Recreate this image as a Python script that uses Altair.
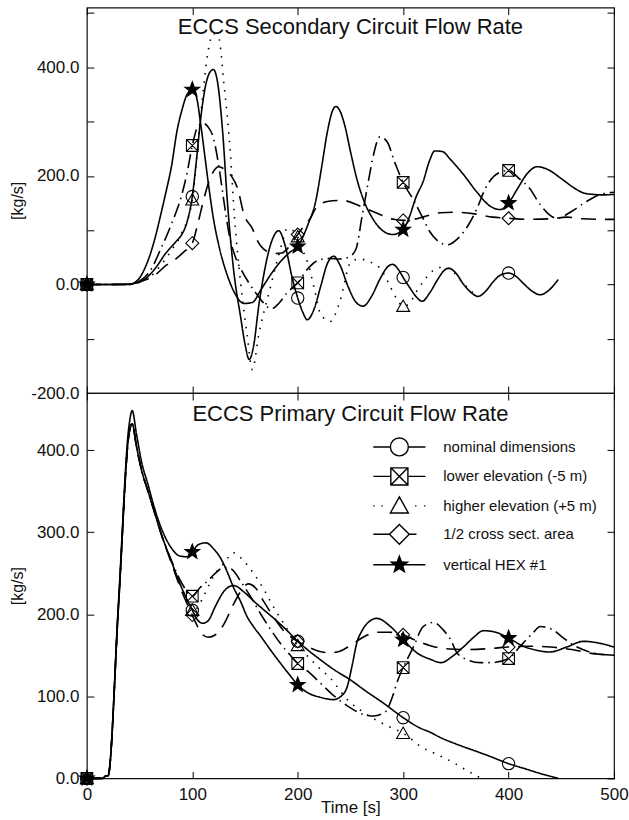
import math

import altair as alt
import pandas as pd

# ---------------------------------------------------------------------------
# Series names, marker positions and tick values
# ---------------------------------------------------------------------------
SERIES = [
    "nominal dimensions",
    "lower elevation (-5 m)",
    "higher elevation (+5 m)",
    "1/2 cross sect. area",
    "vertical HEX #1",
]
MARK_TIMES = [0, 100, 200, 300, 400]
TIME_TICKS = [0, 100, 200, 300, 400, 500]
SEC_TICKS = [-200, -100, 0, 100, 200, 300, 400, 500]
PRI_TICKS = [0, 100, 200, 300, 400]

# ---------------------------------------------------------------------------
# ECCS secondary circuit flow rate [kg/s] as (time [s], flow) pairs
# ---------------------------------------------------------------------------
SEC_NOMINAL = [
    (0, 0), (20, 0), (40, 1), (45, 2), (55, 10), (65, 30), (75, 58), (85, 80),
    (90, 92), (95, 115), (100, 162), (104, 230), (108, 306), (113, 370),
    (117, 392), (120, 396), (124, 372), (129, 276), (133, 160), (139, 30),
    (146, -62), (150, -110), (154, -138), (158, -115), (163, -40), (168, 20),
    (175, 78), (182, 99), (188, 72), (195, 10), (200, -25), (205, -52),
    (209, -65), (215, -48), (222, -2), (228, 38), (234, 52), (240, 36),
    (248, -5), (255, -32), (262, -40), (270, -22), (278, 10), (285, 32),
    (290, 37), (296, 26), (300, 13), (307, -8), (313, -24), (318, -31),
    (325, -16), (333, 10), (338, 24), (343, 30), (350, 21), (357, 1),
    (364, -14), (371, -22), (378, -13), (385, 4), (392, 17), (400, 21),
    (407, 15), (414, 2), (422, -12), (430, -19), (438, -11), (447, 9),
]
SEC_LOWER = [
    (0, 0), (40, 0), (50, 6), (60, 25), (70, 65), (80, 110), (90, 165),
    (95, 205), (100, 256), (105, 290), (110, 297), (115, 290), (120, 270),
    (125, 220), (130, 153), (135, 92), (141, 50), (147, 25), (153, 5),
    (160, -15), (168, -35), (175, -45), (182, -35), (190, -15), (200, 3),
    (210, 30), (220, 45), (230, 48), (240, 47), (248, 50), (255, 64),
    (261, 125), (267, 190), (272, 240), (278, 272), (285, 262), (292, 225),
    (300, 188), (310, 155), (318, 125), (325, 98), (333, 80), (342, 73),
    (352, 85), (362, 110), (370, 140), (378, 177), (390, 205), (400, 210),
    (410, 195), (420, 177), (430, 147), (446, 122), (460, 135), (474, 153),
    (487, 166), (500, 170),
]
SEC_HIGHER = [
    (0, 0), (40, 0), (50, 4), (60, 14), (70, 35), (80, 62), (90, 95),
    (100, 156), (105, 250), (110, 350), (115, 430), (120, 462), (125, 455),
    (130, 370), (136, 245), (140, 125), (146, 0), (152, -93), (157, -157),
    (163, -93), (168, -50), (173, -13), (179, 33), (185, 75), (190, 103),
    (195, 100), (200, 88), (205, 62), (210, 37), (216, -10), (222, -56),
    (231, -68), (240, -31), (250, 40), (258, 47), (268, 42), (280, 25),
    (288, -5), (295, -30), (300, -40), (306, -35), (312, -15), (319, 5),
    (328, 25), (338, 32), (348, 22), (358, 0), (366, -15),
]
SEC_HALF = [
    (0, 0), (40, 0), (45, 2), (55, 8), (65, 18), (75, 35), (85, 48), (92, 60),
    (100, 76), (105, 110), (110, 150), (115, 185), (120, 208), (125, 217),
    (130, 213), (137, 200), (143, 177), (149, 129), (157, 103), (162, 80),
    (170, 62), (178, 57), (185, 58), (192, 70), (200, 92), (206, 108),
    (212, 122), (217, 140), (228, 153), (242, 155), (255, 148), (262, 142),
    (278, 129), (291, 120), (300, 118), (310, 120), (320, 125), (335, 132),
    (350, 133), (368, 130), (385, 124), (400, 122), (420, 120), (440, 121),
    (455, 124), (470, 121), (485, 120), (500, 120),
]
SEC_HEX = [
    (0, 0), (40, 0), (45, 3), (50, 12), (55, 30), (60, 55), (65, 88),
    (70, 128), (75, 170), (80, 215), (86, 288), (90, 320), (95, 350),
    (100, 359), (104, 345), (108, 295), (112, 235), (116, 175), (120, 122),
    (126, 65), (133, 18), (140, -15), (149, -35), (157, -33), (165, -10),
    (175, 20), (185, 45), (193, 60), (200, 70), (205, 88), (210, 112),
    (217, 153), (223, 220), (228, 280), (233, 320), (236, 328), (240, 320),
    (245, 290), (250, 245), (256, 195), (263, 153), (270, 125), (280, 100),
    (290, 92), (300, 101), (306, 125), (312, 160), (319, 190), (325, 228),
    (330, 246), (337, 245), (345, 230), (357, 203), (370, 170), (382, 145),
    (392, 138), (400, 150), (408, 175), (418, 205), (427, 217), (437, 212),
    (450, 195), (462, 178), (472, 168), (480, 166), (490, 165), (500, 166),
]

# ---------------------------------------------------------------------------
# ECCS primary circuit flow rate [kg/s] as (time [s], flow) pairs
# ---------------------------------------------------------------------------
PRI_NOMINAL = [
    (0, 0), (15, 0), (18, 3), (20, 3), (30, 210), (40, 420), (43, 432),
    (47, 405), (52, 375), (58, 350), (64, 325), (70, 300), (80, 265),
    (90, 232), (100, 205), (105, 193), (110, 189), (115, 192), (122, 210),
    (130, 228), (139, 235), (150, 226), (160, 214), (170, 203), (180, 192),
    (190, 180), (200, 167), (210, 156), (221, 145), (235, 132), (250, 120),
    (265, 106), (281, 92), (300, 74), (315, 62), (326, 56), (335, 50),
    (350, 42), (365, 35), (380, 28), (400, 18), (415, 12), (430, 6), (447, 0),
]
PRI_LOWER = [
    (0, 0), (15, 0), (18, 3), (20, 3), (30, 210), (40, 420), (43, 432),
    (47, 405), (52, 375), (58, 350), (64, 325), (70, 300), (80, 266),
    (90, 238), (100, 222), (107, 232), (114, 240), (122, 250), (130, 257),
    (137, 255), (146, 240), (155, 222), (165, 200), (175, 180), (185, 162),
    (193, 150), (200, 140), (210, 130), (220, 118), (235, 100), (250, 86),
    (262, 78), (272, 76), (283, 81), (290, 100), (295, 120), (300, 135),
    (305, 148), (310, 161), (319, 185), (329, 190), (338, 181), (345, 169),
    (351, 153), (360, 145), (373, 141), (383, 141), (400, 146), (411, 161),
    (423, 177), (430, 185), (442, 181), (452, 171), (465, 160), (480, 153),
    (500, 150),
]
PRI_HIGHER = [
    (0, 0), (15, 0), (18, 3), (20, 3), (30, 210), (40, 420), (43, 432),
    (47, 405), (52, 375), (58, 350), (64, 325), (70, 300), (80, 265),
    (90, 232), (100, 205), (105, 208), (110, 220), (116, 236), (122, 250),
    (130, 262), (139, 275), (148, 266), (158, 250), (168, 230), (177, 209),
    (188, 186), (200, 162), (210, 148), (220, 135), (231, 122), (247, 96),
    (263, 80), (285, 64), (300, 55), (319, 37), (329, 31), (348, 19),
    (360, 10), (374, 0),
]
PRI_HALF = [
    (0, 0), (15, 0), (18, 3), (20, 3), (30, 210), (40, 420), (43, 432),
    (47, 405), (52, 375), (58, 350), (64, 325), (70, 300), (80, 263),
    (90, 228), (100, 199), (105, 185), (110, 175), (115, 172), (122, 175),
    (130, 188), (139, 212), (146, 228), (153, 237), (160, 232), (168, 215),
    (178, 195), (188, 178), (200, 167), (210, 160), (220, 155), (230, 153),
    (240, 155), (250, 162), (262, 172), (275, 178), (287, 178), (300, 175),
    (312, 168), (325, 162), (340, 158), (360, 157), (380, 158), (400, 160),
    (420, 161), (440, 160), (460, 157), (480, 152), (500, 150),
]
PRI_HEX = [
    (0, 0), (15, 0), (18, 3), (20, 3), (30, 215), (40, 430), (43, 448),
    (47, 420), (52, 385), (58, 358), (64, 330), (70, 307), (80, 281),
    (88, 271), (95, 270), (100, 276), (106, 285), (113, 287), (120, 280),
    (127, 268), (133, 252), (139, 233), (146, 215), (152, 197), (158, 185),
    (165, 173), (175, 155), (185, 138), (193, 125), (200, 114), (210, 104),
    (221, 99), (234, 96), (241, 100), (247, 112), (252, 140), (256, 165),
    (261, 180), (266, 189), (275, 195), (288, 185), (300, 169), (313, 153),
    (326, 145), (336, 141), (346, 148), (357, 160), (367, 172), (376, 180),
    (388, 178), (400, 171), (414, 161), (427, 156), (439, 154), (455, 160),
    (471, 167), (485, 165), (500, 160),
]

# ---------------------------------------------------------------------------
# Styling: dash patterns, marker symbols and legend glyphs
# ---------------------------------------------------------------------------
FONT = "Liberation Sans"
INK = "#111111"
DASHES = [[1, 0], [14, 5, 1.5, 5], [1.5, 7], [15, 9], [1, 0]]


def circle_path(r):
    return f"M{r},0A{r},{r},0,1,1,{-r},0A{r},{r},0,1,1,{r},0Z"


def crossed_square_path(s):
    return (f"M{-s},{-s}H{s}V{s}H{-s}Z"
            f"M{-s},{-s}L{s},{s}M{s},{-s}L{-s},{s}")


def triangle_path(top, base, half):
    return f"M0,{-top}L{half},{base}L{-half},{base}Z"


def diamond_path(d):
    return f"M0,{-d}L{d},0L0,{d}L{-d},0Z"


def star_path(outer, ratio=0.42):
    pts = []
    for k in range(10):
        ang = math.radians(-90 + 36 * k)
        r = outer if k % 2 == 0 else outer * ratio
        pts.append(f"{r * math.cos(ang):.3f},{r * math.sin(ang):.3f}")
    return "M" + "L".join(pts) + "Z"


MARKER_PATHS = [
    circle_path(0.95),
    crossed_square_path(0.9),
    triangle_path(0.95, 0.8, 1.0),
    diamond_path(1.0),
    star_path(1.2),
]
MARKER_FILLS = ["transparent", "transparent", "transparent", "transparent", "black"]

# legend glyphs: short line sample with the marker in the middle
LEGEND_PATHS = [
    "M-2.9,0H-1M1,0H2.9" + circle_path(1.0),
    "M-2.9,0H-0.95M0.95,0H2.9" + crossed_square_path(0.95),
    "M-2.9,0H-2.75M-2,0H-1.85M1.75,0H1.9M2.75,0H2.9" + triangle_path(1.0, 0.8, 1.0),
    "M-2.9,0H-1.1M1.1,0H1.9" + diamond_path(1.1),
    "M-2.9,0H2.9" + star_path(0.95),
]
LEGEND_FILLS = MARKER_FILLS
LEGEND_STROKES = ["black"] * 5

X_SCALE = alt.Scale(domain=[0, 500], nice=False, zero=False)
PLOT_WIDTH = 528


def to_frame(panel):
    rows = []
    for name, pairs in zip(SERIES, panel):
        for t, v in pairs:
            rows.append({"series": name, "time": t, "flow": v})
    return pd.DataFrame(rows)


def tick_axis(orient, values, **kw):
    """Axis whose grid dashes act as short inward tick marks."""
    opts = dict(
        orient=orient, values=values, grid=True, gridDash=[7, 4000],
        gridColor="black", gridOpacity=1, gridWidth=1, ticks=False,
        tickSize=0, domain=False, labelFont=FONT, labelFontSize=17,
        labelColor=INK, titleFont=FONT, titleColor=INK,
        titleFontWeight="normal",
    )
    opts.update(kw)
    return alt.Axis(**opts)


def panel(data, y_domain, y_ticks, label_expr, title, title_y, height, bottom_panel):
    y_scale = alt.Scale(domain=y_domain, nice=False, zero=False)
    markers = data[data["time"].isin(MARK_TIMES)]

    left = tick_axis("left", y_ticks, labelExpr=label_expr, labelPadding=8,
                     title="[kg/s]", titleFontSize=16, titleX=-61,
                     titleY=height / 2)
    right = tick_axis("right", y_ticks, labels=False, title=None)
    top = tick_axis("top", TIME_TICKS, labels=False, title=None)
    if bottom_panel:
        bottom = tick_axis("bottom", TIME_TICKS, format="d", labelFlush=False,
                           labelPadding=8, title="Time [s]", titleFontSize=17,
                           titleY=21, titleBaseline="top")
    else:
        bottom = tick_axis("bottom", TIME_TICKS, labels=False, title=None)

    lines = alt.Chart(data).mark_line(
        color="black", strokeWidth=1.6, interpolate="monotone"
    ).encode(
        x=alt.X("time:Q", scale=X_SCALE, axis=bottom),
        y=alt.Y("flow:Q", scale=y_scale, axis=left),
        strokeDash=alt.StrokeDash(
            "series:N", scale=alt.Scale(domain=SERIES, range=DASHES), legend=None
        ),
    )

    points = alt.Chart(markers).mark_point(
        color="black", stroke="black", strokeWidth=1.1, size=169, opacity=1
    ).encode(
        x=alt.X("time:Q", scale=X_SCALE, axis=top),
        y=alt.Y("flow:Q", scale=y_scale, axis=right),
        shape=alt.Shape(
            "series:N", scale=alt.Scale(domain=SERIES, range=MARKER_PATHS), legend=None
        ),
        fill=alt.Fill(
            "series:N", scale=alt.Scale(domain=SERIES, range=MARKER_FILLS), legend=None
        ),
    )

    # panel heading, written inside the plot frame
    heading = alt.Chart(alt.Data(values=[{}])).mark_text(
        text=title, font=FONT, fontSize=22, color=INK, align="center",
        baseline="alphabetic",
    ).encode(x=alt.value(PLOT_WIDTH / 2), y=alt.value(title_y))

    layers = [lines, points, heading]
    if bottom_panel:
        legend = alt.Legend(
            title=None, orient="none", legendX=303, legendY=44, padding=0,
            symbolSize=324, symbolStrokeColor="black", symbolStrokeWidth=1.4,
            symbolOpacity=1, labelFont=FONT, labelFontSize=15, labelColor=INK,
            labelOffset=34, rowPadding=5.5,
        )
        key = alt.Chart(markers[markers["time"] == 0]).mark_point(
            color="black", stroke="black", opacity=0
        ).encode(
            x=alt.X("time:Q", scale=X_SCALE, axis=None),
            y=alt.Y("flow:Q", scale=y_scale, axis=None),
            shape=alt.Shape(
                "series:N", scale=alt.Scale(domain=SERIES, range=LEGEND_PATHS),
                legend=legend,
            ),
            fill=alt.Fill(
                "series:N", scale=alt.Scale(domain=SERIES, range=LEGEND_FILLS),
                legend=legend,
            ),
            stroke=alt.Stroke(
                "series:N", scale=alt.Scale(domain=SERIES, range=LEGEND_STROKES),
                legend=legend,
            ),
        )
        layers.append(key)

    return alt.layer(*layers).resolve_scale(
        shape="independent", fill="independent", stroke="independent"
    ).resolve_axis(
        x="independent", y="independent"
    ).properties(width=PLOT_WIDTH, height=height)


secondary = panel(
    to_frame([SEC_NOMINAL, SEC_LOWER, SEC_HIGHER, SEC_HALF, SEC_HEX]),
    [-200, 510], SEC_TICKS,
    "datum.value % 200 === 0 ? (datum.value < 0 ? '-' : '') + "
    "format(abs(datum.value), '.1f') : ''",
    "ECCS Secondary Circuit Flow Rate", 26, 386, False,
)
primary = panel(
    to_frame([PRI_NOMINAL, PRI_LOWER, PRI_HIGHER, PRI_HALF, PRI_HEX]),
    [0, 469.5], PRI_TICKS, "format(datum.value, '.1f')",
    "ECCS Primary Circuit Flow Rate", 28.5, 386, True,
)

# panels stacked frame-to-frame, sharing the boundary line
chart = alt.vconcat(secondary, primary, spacing=0, bounds="flush").resolve_scale(
    shape="independent", fill="independent", stroke="independent"
).properties(
    padding={"left": 9, "top": 6, "right": 0, "bottom": 0},
    background="white",
).configure_view(
    stroke="#111111", strokeWidth=1.2
)

chart.save("out.html", embed_options={"renderer": "svg", "actions": False})
